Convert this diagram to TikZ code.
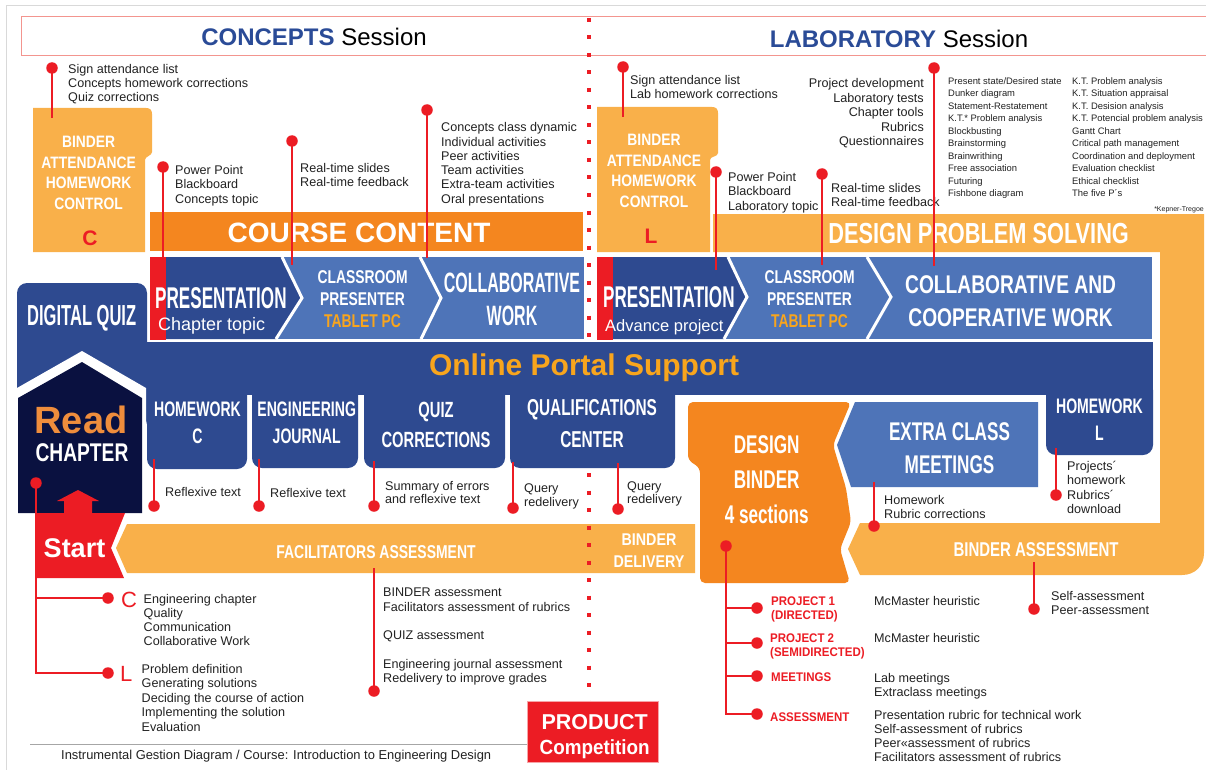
\documentclass[tikz,border=0pt]{standalone}
\usepackage{fontspec}
\setmainfont{Liberation Sans}
\newfontfamily\cA{Liberation Sans}[FakeStretch=0.57]
\newfontfamily\cB{Liberation Sans}[FakeStretch=0.67]
\newfontfamily\cC{Liberation Sans}[FakeStretch=0.75]
\newfontfamily\cD{Liberation Sans}[FakeStretch=0.84]
\newfontfamily\cE{Liberation Sans}[FakeStretch=0.92]
\newcommand{\fsz}[1]{\fontsize{#1}{#1}\selectfont}

\definecolor{blueD}{HTML}{2E4A90}
\definecolor{blueL}{HTML}{4E74B8}
\definecolor{navy}{HTML}{0A1140}
\definecolor{orangeD}{HTML}{F4861F}
\definecolor{orangeL}{HTML}{F9B04A}
\definecolor{redM}{HTML}{EC1C24}
\definecolor{orangeT}{HTML}{F8A51D}
\definecolor{readO}{HTML}{EF8D3C}
\definecolor{hblue}{HTML}{2A4B97}
\definecolor{salmon}{HTML}{F3958F}
\definecolor{ink}{HTML}{222222}

\tikzset{
  note/.style={font=\fsz{12.6}, text=ink, inner sep=0, anchor=base west},
  small/.style={font=\fsz{9.4}, text=ink, inner sep=0, anchor=base west},
  redlab/.style={font=\cE\bfseries\fsz{12.5}, text=redM, inner sep=0, anchor=base west},
  hA/.style={text=white, inner sep=0, anchor=base, font=\cA\bfseries\fsz{#1}},
  hB/.style={text=white, inner sep=0, anchor=base, font=\cB\bfseries\fsz{#1}},
  hC/.style={text=white, inner sep=0, anchor=base, font=\cC\bfseries\fsz{#1}},
  hD/.style={text=white, inner sep=0, anchor=base, font=\cD\bfseries\fsz{#1}},
  hE/.style={text=white, inner sep=0, anchor=base, font=\cE\bfseries\fsz{#1}},
  hN/.style={text=white, inner sep=0, anchor=base, font=\bfseries\fsz{#1}},
  dot/.style={circle, fill=redM, inner sep=0, minimum size=11.5},
  conn/.style={draw=redM, line width=2.2},
  sep/.style={draw=white, line width=3},
}

% one text line per node, baselines dy apart
\newcommand{\txtblock}[6]{%
  \foreach \tline [count=\tk from 0] in {#6}{%
    \node[#2] (#1-\tk) at (#3,{#4+\tk*#5}) {\tline};}}
% red dot with a straight vertical lead ending at y=#4
\newcommand{\pin}[4]{%
  \node[dot] (#1) at (#2,#3) {};
  \coordinate (#1-end) at (#2,#4);
  \draw[conn] (#1.center) -- (#1-end);}

\begin{document}
\begin{tikzpicture}[x=1pt,y=-1pt]
\useasboundingbox (0,0) rectangle (1206,770);
\fill[white] (0,0) rectangle (1206,770);

% page frame and session header
\draw[black!15, line width=1] (6,770) -- (6,6) -- (1206,6);
\draw[salmon, line width=1] (1206,17) -- (21,17) -- (21,56) -- (1206,56);
\node[inner sep=0, anchor=base, font=\fsz{24}] (hcon) at (314,46)
  {\textcolor{hblue}{\bfseries CONCEPTS} Session};
\node[inner sep=0, anchor=base, font=\fsz{24}] (hlab) at (899,48)
  {\textcolor{hblue}{\bfseries LABORATORY} Session};

% facilitators assessment / binder delivery bar
\fill[orangeL] (116,548) -- (127,524) -- (695,524) -- (695,573) -- (127,573) -- cycle;

% design problem solving frame
\fill[orangeL] (713,214) -- (1204,214) -- (1204,553)
  .. controls (1204,566) and (1195,575) .. (1182,575)
  -- (860,575) -- (848,549) -- (860,523) -- (1160,523) -- (1160,252) -- (713,252) -- cycle;

% session divider
\draw[redM, line width=4, dash pattern=on 4pt off 13.5pt] (589,18) -- (589,768);

% binder boxes
\fill[orangeL] (33,252) -- (33,108) -- (146,108) .. controls (150,108) and (152,110) .. (152,114)
  -- (152,152) .. controls (152,156) and (145,156) .. (145,160) -- (145,252) -- cycle;
\fill[orangeL] (597,252) -- (597,107) -- (712,107) .. controls (716,107) and (718,109) .. (718,113)
  -- (718,153) .. controls (718,157) and (710,156) .. (710,160) -- (710,252) -- cycle;

% course content bar
\fill[orangeD] (150,212) rectangle (583,251);

% concepts activity row
\fill[blueL] (150,257) rectangle (584,339);
\fill[blueD] (150,257) -- (282,257) -- (302,298) -- (276,339) -- (150,339) -- cycle;
\draw[sep] (282,257) -- (302,298) -- (276,339);
\draw[sep] (420,257) -- (441,298) -- (421,339);
\fill[redM] (150,257) rectangle (166,340);

% laboratory activity row
\fill[blueL] (597,257) rectangle (1152,339);
\fill[blueD] (597,257) -- (728,257) -- (747,297) -- (724,339) -- (597,339) -- cycle;
\draw[sep] (728,257) -- (747,297) -- (724,339);
\draw[sep] (867,257) -- (891,297) -- (867,339);
\fill[redM] (597,257) rectangle (613,340);

% online portal band with its tabs
\fill[blueD, rounded corners=10] (17,430) -- (17,283) -- (147,283) -- (147,430) -- cycle;
\fill[blueD] (17,342) rectangle (1153,395);
\foreach \xa/\xb/\yb in {147/247/469, 252/358/468, 364/505/468, 510/675/468, 1046/1153/455}
  \fill[blueD, rounded corners=10] (\xa,380) -- (\xa,\yb) -- (\xb,\yb) -- (\xb,380) -- cycle;

% read chapter house
\fill[white] (17,388) -- (82,351) -- (146,388) -- (146,513) -- (17,513) -- cycle;
\fill[navy] (18,398) -- (82,362) -- (142,398) -- (142,513) -- (18,513) -- cycle;
\fill[redM] (57,501) -- (78,490) -- (99,501) -- (92,501) -- (92,514) -- (64,514) -- (64,501) -- cycle;

% start block
\fill[redM] (35,513) -- (125,513) -- (111,548) -- (124,578) -- (35,578) -- cycle;

% design binder and extra class meetings
\fill[orangeD, rounded corners=5] (700,583) -- (700,468) -- (688,460) -- (688,402) -- (851,402)
  -- (833,445) -- (846,488) -- (851,522) -- (840,549) -- (850,583) -- cycle;
\fill[blueL] (837,445) -- (855,402) -- (1038,402) -- (1038,487) -- (851,487) -- cycle;

% product competition
\fill[redM] (527,701) rectangle (658,762);
\draw[redM!40, line width=0.8] (527,701) rectangle (658,762);

% footer
\draw[black!35, line width=1] (30,744) -- (527,744);
\node[note, font=\fsz{12.9}] (caption) at (61,759)
  {Instrumental Gestion Diagram / Course: Introduction to Engineering Design};

% ---------- labels on shapes ----------
\txtblock{bc}{hD=16.5}{88.6}{148}{20.4}{BINDER,ATTENDANCE,HOMEWORK,CONTROL}
\node[inner sep=0, anchor=base, font=\bfseries\fsz{21}, text=redM] (bcC) at (90,245) {C};
\txtblock{bl}{hD=16.5}{654}{146}{20.4}{BINDER,ATTENDANCE,HOMEWORK,CONTROL}
\node[inner sep=0, anchor=base, font=\bfseries\fsz{21}, text=redM] (blL) at (651,243) {L};

\node[hN=28] (cc) at (359,242) {COURSE CONTENT};
\node[hC=29] (dps) at (978.6,243) {DESIGN PROBLEM SOLVING};

\node[hA=30, anchor=base west] (pres1) at (155,308) {PRESENTATION};
\node[text=white, inner sep=0, anchor=base west, font=\fsz{18}] (pres1t) at (158,330) {Chapter topic};
\txtblock{cp1}{hC=18.5}{362.6}{283}{22}{CLASSROOM,PRESENTER,{\color{orangeT}TABLET PC}}
\txtblock{cw1}{hA=28}{512}{292}{33}{COLLABORATIVE,WORK}

\node[hA=30, anchor=base west] (pres2) at (603,307) {PRESENTATION};
\node[text=white, inner sep=0, anchor=base west, font=\fsz{16.5}] (pres2t) at (605,331) {Advance project};
\txtblock{cp2}{hC=18.5}{809.6}{283}{22}{CLASSROOM,PRESENTER,{\color{orangeT}TABLET PC}}
\txtblock{cw2}{hC=25.6}{1010.6}{293}{33}{COLLABORATIVE AND,COOPERATIVE WORK}

\node[hA=29] (dq) at (81.7,325) {DIGITAL QUIZ};
\node[inner sep=0, anchor=base, font=\bfseries\fsz{30}, text=orangeT] (ops) at (584,375) {Online Portal Support};
\node[inner sep=0, anchor=base, font=\bfseries\fsz{38}, text=readO] (rd) at (81,433) {Read};
\node[hC=25.6] (chap) at (82,461) {CHAPTER};

\txtblock{hwc}{hB=21}{197.5}{416}{27}{HOMEWORK,C}
\txtblock{ej}{hB=21}{306.7}{416}{27}{ENGINEERING,JOURNAL}
\txtblock{qcor}{hB=22}{436}{417}{30}{QUIZ,CORRECTIONS}
\txtblock{qfc}{hB=23}{592}{415}{32}{QUALIFICATIONS,CENTER}
\txtblock{hwl}{hB=21}{1099.5}{413}{27}{HOMEWORK,L}
\txtblock{ecm}{hB=25.6}{949.5}{440}{33}{EXTRA CLASS,MEETINGS}
\txtblock{dbt}{hB=25.6}{766.7}{453}{35}{DESIGN,BINDER,4 sections}

\node[hC=18.6] (fa) at (376,558) {FACILITATORS ASSESSMENT};
\txtblock{bd}{hD=17}{649}{545}{22}{BINDER,DELIVERY}
\node[hC=20] (ba) at (1036,556) {BINDER ASSESSMENT};
\node[hN=27] (st) at (74.5,557) {Start};
\node[hN=21.5] (prod) at (594.7,729) {PRODUCT};
\node[hE=20.5] (comp) at (594.7,754) {Competition};

% ---------- notes ----------
\txtblock{n1}{note}{68}{74}{14}{Sign attendance list,Concepts homework corrections,Quiz corrections}
\txtblock{n2}{note}{175}{175}{14}{Power Point,Blackboard,Concepts topic}
\txtblock{n3}{note}{300}{172}{14}{Real-time slides,Real-time feedback}
\txtblock{n4}{note}{441}{132}{14.2}{Concepts class dynamic,Individual activities,Peer activities,Team activities,Extra-team activities,Oral presentations}
\txtblock{n5}{note}{630}{85}{14}{Sign attendance list,Lab homework corrections}
\txtblock{n6}{note, anchor=base east}{924}{88}{14.5}{Project development,Laboratory tests,Chapter tools,Rubrics,Questionnaires}
\txtblock{n7}{note}{728}{182}{14}{Power Point,Blackboard,Laboratory topic}
\txtblock{n8}{note}{831}{192}{14}{Real-time slides,Real-time feedback}
\txtblock{n9}{small}{948}{84.3}{12.5}{Present state/Desired state,Dunker diagram,Statement-Restatement,K.T.* Problem analysis,Blockbusting,Brainstorming,Brainwrithing,Free association,Futuring,Fishbone diagram}
\txtblock{n10}{small}{1072}{84.3}{12.5}{K.T. Problem analysis,K.T. Situation appraisal,K.T. Desision analysis,K.T. Potencial problem analysis,Gantt Chart,Critical path management,Coordination and deployment,Evaluation checklist,Ethical checklist,The five P´s}
\node[inner sep=0, anchor=base east, font=\fsz{7}, text=ink] (kt) at (1204,211) {*Kepner-Tregoe};

\txtblock{r1}{note}{165}{496}{14}{Reflexive text}
\txtblock{r2}{note}{270}{497}{14}{Reflexive text}
\txtblock{r3}{note}{385}{490}{13.5}{Summary of errors,and reflexive text}
\txtblock{r4}{note}{524}{492}{14}{Query,redelivery}
\txtblock{r5}{note}{627}{490}{13.5}{Query,redelivery}
\txtblock{r6}{note}{884}{504}{14}{Homework,Rubric corrections}
\txtblock{r7}{note}{1067}{470}{14.5}{Projects´,homework,Rubrics´,download}

\txtblock{f1}{note}{383}{596}{15}{BINDER assessment,Facilitators assessment of rubrics}
\node[note] (f2) at (383,639) {QUIZ assessment};
\txtblock{f3}{note}{383}{668}{14.5}{Engineering journal assessment,Redelivery to improve grades}

\node[inner sep=0, anchor=base west, font=\fsz{22}, text=redM] (lc) at (121,607) {C};
\txtblock{c1}{note}{143.5}{603}{14}{Engineering chapter,Quality,Communication,Collaborative Work}
\node[inner sep=0, anchor=base west, font=\fsz{22}, text=redM] (ll) at (120,681) {L};
\txtblock{l1}{note}{141.5}{673}{14.6}{Problem definition,Generating solutions,Deciding the course of action,Implementing the solution,Evaluation}

\txtblock{s1}{note}{1051}{600}{14}{Self-assessment,Peer-assessment}
\node[note] (m1) at (874,605) {McMaster heuristic};
\node[note] (m2) at (874,642) {McMaster heuristic};
\txtblock{m3}{note}{874}{682}{14}{Lab meetings,Extraclass meetings}
\txtblock{m4}{note}{874}{719}{14.3}{Presentation rubric for technical work,Self-assessment of rubrics,Peer«assessment of rubrics,Facilitators assessment of rubrics}
\txtblock{p1}{redlab}{771}{605}{14}{PROJECT 1,(DIRECTED)}
\txtblock{p2}{redlab}{770}{642}{14}{PROJECT 2,(SEMIDIRECTED)}
\node[redlab] (mt) at (771,681) {MEETINGS};
\node[redlab] (asl) at (770,721) {ASSESSMENT};

% ---------- red leads ----------
\pin{ka}{52}{68}{118}
\pin{kb}{163}{167}{257}
\pin{kc}{292}{141}{265}
\pin{kd}{427}{110}{258}
\pin{ke}{623}{67}{117}
\pin{kf}{716}{172}{270}
\pin{kg}{822}{174}{265}
\pin{kh}{934}{68}{266}
\pin{ki}{154}{506}{459}
\pin{kj}{259}{506}{459}
\pin{kk}{374}{506}{461}
\pin{kl}{513}{508}{462}
\pin{km}{618}{509}{463}
\pin{kn}{874}{526}{482}
\pin{ko}{1056}{495}{448}
\pin{kp}{1034}{609}{562}
\pin{kq}{374}{691}{568}

% start bracket
\node[dot] (sd) at (36,483) {};
\node[dot] (sc) at (108,598) {};
\node[dot] (sl) at (108,673) {};
\draw[conn] (sd.center) |- (sl.center);
\draw[conn] (sd.center |- sc.center) -- (sc.center);

% design binder sections
\node[dot] (dbd) at (726,546) {};
\node[dot] (dp1) at (757,608) {};
\node[dot] (dp2) at (757,643) {};
\node[dot] (dmt) at (757,676) {};
\node[dot] (das) at (757,714) {};
\draw[conn] (dbd.center) |- (das.center);
\draw[conn] (dbd.center |- dp1.center) -- (dp1.center);
\draw[conn] (dbd.center |- dp2.center) -- (dp2.center);
\draw[conn] (dbd.center |- dmt.center) -- (dmt.center);
\end{tikzpicture}
\end{document}
